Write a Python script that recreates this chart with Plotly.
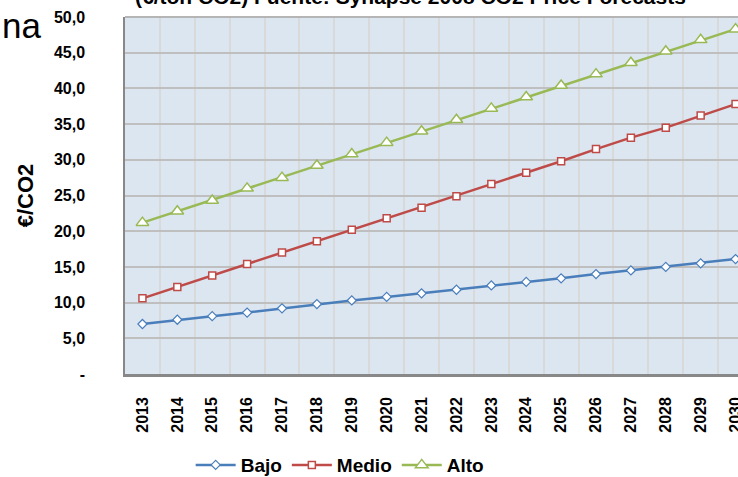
import plotly.graph_objects as go

years = [str(y) for y in range(2013, 2031)]
bajo = [7.0, 7.6, 8.1, 8.6, 9.2, 9.8, 10.3, 10.8, 11.3, 11.8, 12.4, 12.9, 13.4, 14.0, 14.5, 15.0, 15.5, 16.1]
medio = [10.6, 12.2, 13.8, 15.4, 17.0, 18.6, 20.2, 21.8, 23.3, 24.9, 26.6, 28.2, 29.8, 31.5, 33.1, 34.5, 36.2, 37.8]
alto = [21.2, 22.8, 24.3, 26.0, 27.5, 29.2, 30.8, 32.4, 34.0, 35.6, 37.2, 38.8, 40.4, 42.0, 43.6, 45.2, 46.8, 48.3]
ytickvals = [0, 5, 10, 15, 20, 25, 30, 35, 40, 45, 50]
yticktext = ["-", "5,0", "10,0", "15,0", "20,0", "25,0", "30,0", "35,0", "40,0", "45,0", "50,0"]
title_text = "(€/ton CO2) Fuente: Synapse 2008 CO2 Price Forecasts"

fig = go.Figure()
fig.add_trace(go.Scatter(x=years, y=bajo, name="Bajo", mode="lines+markers",
                         line=dict(color="#4a7ebb", width=2.5),
                         marker=dict(symbol="diamond", size=7, color="white",
                                     line=dict(color="#4a7ebb", width=1.2)),
                         cliponaxis=False))
fig.add_trace(go.Scatter(x=years, y=medio, name="Medio", mode="lines+markers",
                         line=dict(color="#be4b48", width=2.5),
                         marker=dict(symbol="square", size=7, color="white",
                                     line=dict(color="#be4b48", width=1.5)),
                         cliponaxis=False))
fig.add_trace(go.Scatter(x=years, y=alto, name="Alto", mode="lines+markers",
                         line=dict(color="#98b954", width=2.5),
                         marker=dict(symbol="triangle-up", size=11, color="white",
                                     line=dict(color="#98b954", width=1.5)),
                         cliponaxis=False))

fig.update_layout(
    width=738, height=477,
    margin=dict(l=125, r=0, t=17, b=103, autoexpand=False),
    paper_bgcolor="white",
    plot_bgcolor="#dce6f1",
    font=dict(family="Liberation Sans, Arial", color="black"),
    showlegend=True,
    legend=dict(orientation="h", x=0.351, xanchor="center", y=-0.255, yanchor="middle",
                font=dict(size=19, family="Liberation Sans", weight="bold"),
                itemwidth=40, tracegroupgap=0, bgcolor="rgba(0,0,0,0)"),
    xaxis=dict(type="category", tickson="boundaries", range=[-0.5, 17.07],
               automargin=False,
               showgrid=True, gridcolor="#d9d9d9", gridwidth=1.5,
               showline=True, linecolor="#888888", linewidth=2.5,
               tickangle=-90, ticks="", ticklabelstandoff=14,
               tickfont=dict(size=16, family="Liberation Sans", weight="bold")),
    yaxis=dict(range=[0, 50], tickvals=ytickvals, ticktext=yticktext,
               automargin=False,
               showgrid=True, gridcolor="#bfbfbf", gridwidth=1.5,
               showline=True, linecolor="#888888", linewidth=1.5, mirror=False,
               zeroline=False, ticks="", ticklabelstandoff=35,
               tickfont=dict(size=16, family="Liberation Sans", weight="bold"),
               title=dict(text="€/CO2", standoff=14,
                          font=dict(size=22, family="Liberation Sans", weight="bold"))),
)

fig.add_shape(type="line", xref="paper", yref="paper", x0=0, x1=1, y0=1, y1=1,
              line=dict(color="#b5b5b5", width=2))

fig.add_annotation(text=title_text, xref="paper", yref="paper", x=0.465, y=1.0196,
                   xanchor="center", yanchor="bottom", showarrow=False,
                   font=dict(size=21, family="Liberation Sans", weight="bold", color="black"))
fig.add_annotation(text="na", xref="paper", yref="paper", x=-0.204, y=0.915,
                   xanchor="left", yanchor="bottom", showarrow=False,
                   font=dict(size=35, family="Liberation Sans", color="black"))

fig.write_html("out.html", config={"displayModeBar": False},
               post_script="document.body.style.margin='0';document.body.style.overflow='hidden';")
